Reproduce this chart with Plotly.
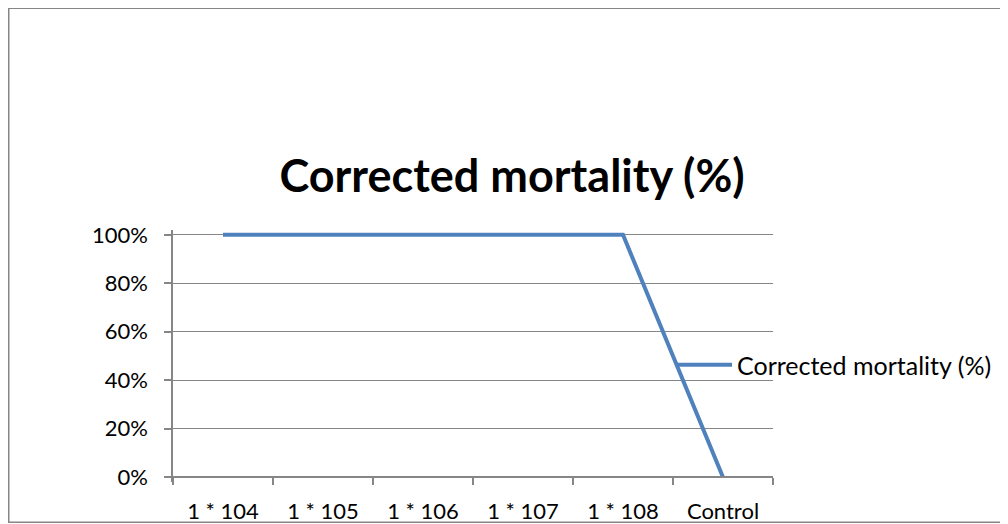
import plotly.graph_objects as go

categories = ["1 * 104", "1 * 105", "1 * 106", "1 * 107", "1 * 108", "Control"]
mortality = [1.0, 1.0, 1.0, 1.0, 1.0, 0.0]
series_name = "Corrected mortality (%)"
y_ticks = [0, 0.2, 0.4, 0.6, 0.8, 1.0]
y_labels = ["0%", "20%", "40%", "60%", "80%", "100%"]

FONT = "Lato, Carlito, Liberation Sans, sans-serif"
OFF = 8  # page body offset
W, H = 1008, 524
PAD = 0.02  # value padding so the thick line is not clipped at 0% / 100%
unit = 477 - 235  # pixels for 0..1
L = 173 - OFF
R = W - (773 - OFF)
T = (235 - OFF) - PAD * unit
B = H - (477 - OFF) - PAD * unit
pw, ph = W - L - R, H - T - B


def px_x(p):
    return (p - OFF - L) / pw


def px_y(p):
    return (H - B - (p - OFF)) / ph


fig = go.Figure()
fig.add_trace(go.Scatter(
    x=categories, y=mortality, mode="lines", name=series_name,
    line=dict(color="#4F81BD", width=4), showlegend=True,
))

fig.update_layout(
    width=W, height=H,
    margin=dict(l=L, r=R, t=T, b=B, autoexpand=False),
    paper_bgcolor="white", plot_bgcolor="white",
    font=dict(family=FONT, size=22, color="black"),
    title=dict(text="<b>Corrected mortality (%)</b>", x=px_x(512), xref="paper", xanchor="center",
               y=1 - (176 - OFF) / H, yref="container", yanchor="middle",
               font=dict(family=FONT, size=45, color="black"), automargin=False),
    showlegend=True,
    legend=dict(x=px_x(672), y=px_y(365), xref="paper", yref="paper", xanchor="left", yanchor="middle",
                font=dict(family=FONT, size=25, color="black"), bgcolor="rgba(0,0,0,0)",
                itemwidth=55),
    shapes=[dict(type="rect", xref="paper", yref="paper",
                 x0=px_x(OFF + 0.75), x1=px_x(1020), y0=px_y(522), y1=px_y(OFF + 0.75),
                 line=dict(color="#868686", width=1.5), fillcolor="rgba(0,0,0,0)", layer="below")],
)
fig.update_xaxes(
    type="category", categoryorder="array", categoryarray=categories,
    anchor="free", position=px_y(477), automargin=False,
    showline=True, linecolor="#868686", linewidth=1.5,
    ticks="outside", tickson="boundaries", ticklen=7, tickcolor="#868686", tickwidth=1.5,
    showgrid=False, tickfont=dict(family=FONT, size=22, color="black"),
    range=[-0.5, 5.5], fixedrange=True, ticklabelstandoff=15,
)
fig.update_yaxes(
    range=[-PAD, 1 + PAD], tickvals=y_ticks, ticktext=y_labels, automargin=False,
    showline=True, linecolor="#868686", linewidth=1.5,
    ticks="outside", ticklen=7, tickcolor="#868686", tickwidth=1.5,
    showgrid=True, gridcolor="#868686", gridwidth=1, zeroline=False,
    tickfont=dict(family=FONT, size=22, color="black"), fixedrange=True,
    ticklabelstandoff=12,
)

fig.write_html("out.html")
